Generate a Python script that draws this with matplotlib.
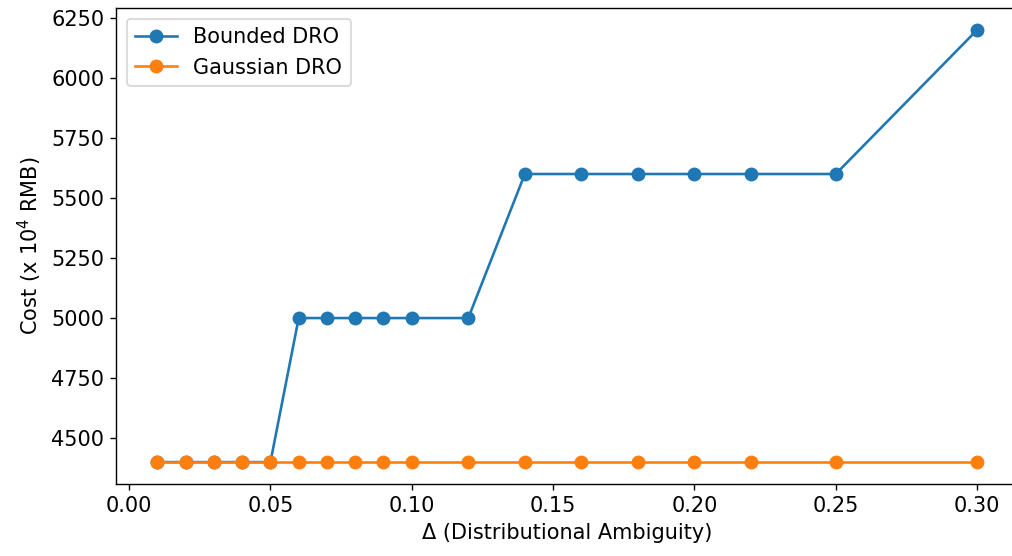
import matplotlib
matplotlib.use('Agg')
import matplotlib.pyplot as plt

# data
delta = [0.01, 0.02, 0.03, 0.04, 0.05, 0.06, 0.07, 0.08, 0.09, 0.10,
         0.12, 0.14, 0.16, 0.18, 0.20, 0.22, 0.25, 0.30]
bounded_cost = [4400, 4400, 4400, 4400, 4400, 5000, 5000, 5000, 5000, 5000,
                5000, 5600, 5600, 5600, 5600, 5600, 5600, 6200]
gaussian_cost = [4400] * len(delta)

plt.rcParams['font.size'] = 12

dpi = 125
fig, ax = plt.subplots(figsize=(1012 / dpi, 556 / dpi), dpi=dpi)
# the reference is cropped on the right, so the axes run past the edge
fig.subplots_adjust(left=0.1150, right=1.006, top=0.985, bottom=0.130)

ax.plot(delta, bounded_cost, marker='o', markersize=7, color='#1f77b4', label='Bounded DRO')
ax.plot(delta, gaussian_cost, marker='o', markersize=7, color='#ff7f0e', label='Gaussian DRO')

ax.set_xlabel('\u0394 (Distributional Ambiguity)')
ax.set_ylabel('Cost (x $10^4$ RMB)')
ax.legend(loc='upper left')

fig.savefig('out.png', dpi=dpi)
